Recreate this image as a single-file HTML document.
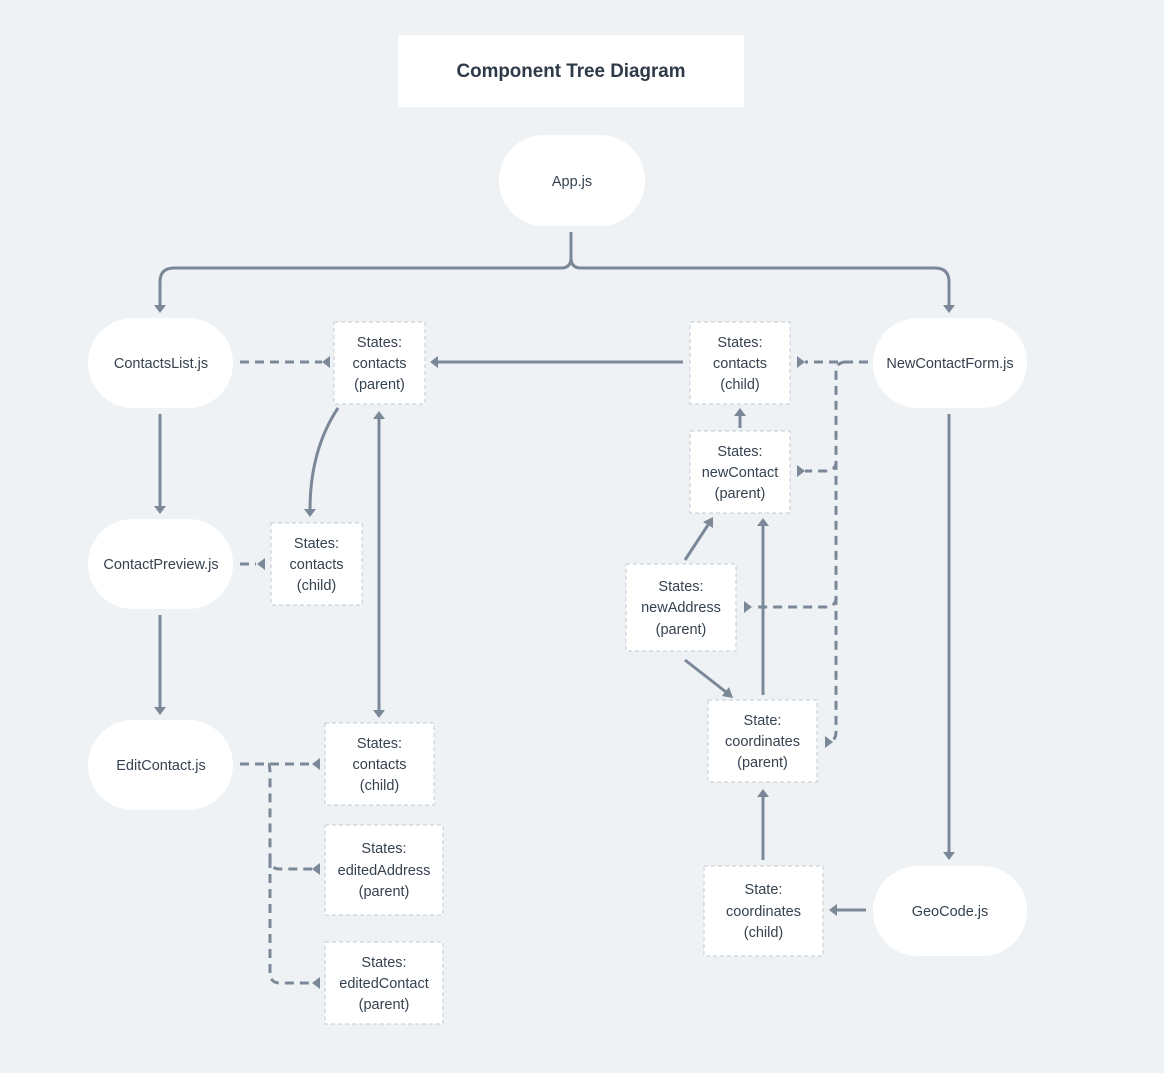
<!DOCTYPE html>
<html><head><meta charset="utf-8"><style>
html,body{margin:0;padding:0;background:#eff2f5;}
svg{display:block;font-family:"Liberation Sans","DejaVu Sans",sans-serif;}
.t{font-size:14.5px;fill:#36424f;text-anchor:middle;}
.ln{stroke:#7b8898;stroke-width:3;fill:none;}
.dl{stroke:#7b8898;stroke-width:3;fill:none;stroke-dasharray:9 6;}
.bx{fill:#fff;stroke:#ccd3db;stroke-width:1.2;stroke-dasharray:4 3;}
.ar{fill:#7b8898;}
</style></head><body>
<svg width="1164" height="1073" viewBox="0 0 1164 1073">
<rect width="1164" height="1073" fill="#eff2f5"/>
<rect x="398" y="35" width="346" height="72" fill="#fff"/>
<text x="571" y="77" font-size="19" font-weight="bold" fill="#2e3a47" text-anchor="middle" textLength="229" lengthAdjust="spacingAndGlyphs">Component Tree Diagram</text>

<path class="ln" d="M571 232 V258 Q571 268 561 268 H174 Q160 268 160 282 V306"/>
<path class="ln" d="M571 258 Q571 268 581 268 H935 Q949 268 949 282 V306"/>
<polygon class="ar" points="154,305 166,305 160,313"/>
<polygon class="ar" points="943,305 955,305 949,313"/>
<path class="ln" d="M160 414 V507"/><polygon class="ar" points="154,506 166,506 160,514"/>
<path class="ln" d="M160 615 V708"/><polygon class="ar" points="154,707 166,707 160,715"/>
<path class="ln" d="M683 362 H437"/><polygon class="ar" points="438,356 438,368 430,362"/>
<path class="ln" d="M338 408 Q310 450 310 510"/><polygon class="ar" points="304,509 316,509 310,517"/>
<path class="ln" d="M379 418 V711"/><polygon class="ar" points="373,419 385,419 379,411"/><polygon class="ar" points="373,710 385,710 379,718"/>
<path class="ln" d="M740 428 V415"/><polygon class="ar" points="734,416 746,416 740,408"/>
<path class="ln" d="M685 560 L708 525"/><polygon class="ar" points="703,522 713,528 713,517"/>
<path class="ln" d="M685 660 L726 692"/><polygon class="ar" points="722,696 729,687 733,698"/>
<path class="ln" d="M763 695 V525"/><polygon class="ar" points="757,526 769,526 763,518"/>
<path class="ln" d="M949 414 V853"/><polygon class="ar" points="943,852 955,852 949,860"/>
<path class="ln" d="M866 910 H836"/><polygon class="ar" points="837,904 837,916 829,910"/>
<path class="ln" d="M763 860 V796"/><polygon class="ar" points="757,797 769,797 763,789"/>

<!-- dashed (arrowheads point back along line) -->
<path class="dl" d="M240 362 H322"/><polygon class="ar" points="330,356 330,368 322,362"/>
<path class="dl" d="M240 564 H256"/><polygon class="ar" points="265,558 265,570 257,564"/>
<path class="dl" d="M240 764 H312"/><polygon class="ar" points="320,758 320,770 312,764"/>
<path class="dl" d="M268 764 Q270 764 270 774 V859 Q270 869 280 869 H312"/><polygon class="ar" points="320,863 320,875 312,869"/>
<path class="dl" d="M270 859 V973 Q270 983 280 983 H312"/><polygon class="ar" points="320,977 320,989 312,983"/>
<path class="dl" d="M868 362 H805"/><polygon class="ar" points="797,356 797,368 805,362"/>
<path class="dl" d="M846 362 Q836 362 836 372 V732 Q836 742 826 742"/><polygon class="ar" points="825,736 825,748 833,742"/>
<path class="dl" d="M836 461 Q836 471 826 471 H805"/><polygon class="ar" points="797,465 797,477 805,471"/>
<path class="dl" d="M836 597 Q836 607 826 607 H752"/><polygon class="ar" points="744,601 744,613 752,607"/>

<g fill="#fff">
<rect x="499" y="135" width="146" height="91" rx="45"/>
<rect x="88" y="318" width="145" height="90" rx="45"/>
<rect x="88" y="519" width="145" height="90" rx="45"/>
<rect x="88" y="720" width="145" height="90" rx="45"/>
<rect x="873" y="318" width="154" height="90" rx="45"/>
<rect x="873" y="866" width="154" height="90" rx="45"/>
</g>
<text class="t" x="572" y="186">App.js</text>
<text class="t" x="161" y="368">ContactsList.js</text>
<text class="t" x="161" y="569">ContactPreview.js</text>
<text class="t" x="161" y="770">EditContact.js</text>
<text class="t" x="950" y="368">NewContactForm.js</text>
<text class="t" x="950" y="916">GeoCode.js</text>

<rect class="bx" x="334" y="322" width="91" height="82"/>
<text class="t" x="379.5" y="347">States:</text><text class="t" x="379.5" y="368">contacts</text><text class="t" x="379.5" y="389">(parent)</text>
<rect class="bx" x="271" y="523" width="91" height="82"/>
<text class="t" x="316.5" y="548">States:</text><text class="t" x="316.5" y="569">contacts</text><text class="t" x="316.5" y="590">(child)</text>
<rect class="bx" x="325" y="723" width="109" height="82"/>
<text class="t" x="379.5" y="748">States:</text><text class="t" x="379.5" y="769">contacts</text><text class="t" x="379.5" y="790">(child)</text>
<rect class="bx" x="325" y="825" width="118" height="90"/>
<text class="t" x="384" y="853">States:</text><text class="t" x="384" y="875">editedAddress</text><text class="t" x="384" y="896">(parent)</text>
<rect class="bx" x="325" y="942" width="118" height="82"/>
<text class="t" x="384" y="967">States:</text><text class="t" x="384" y="988">editedContact</text><text class="t" x="384" y="1009">(parent)</text>
<rect class="bx" x="690" y="322" width="100" height="82"/>
<text class="t" x="740" y="347">States:</text><text class="t" x="740" y="368">contacts</text><text class="t" x="740" y="389">(child)</text>
<rect class="bx" x="690" y="431" width="100" height="82"/>
<text class="t" x="740" y="456">States:</text><text class="t" x="740" y="477">newContact</text><text class="t" x="740" y="498">(parent)</text>
<rect class="bx" x="626" y="564" width="110" height="87"/>
<text class="t" x="681" y="591">States:</text><text class="t" x="681" y="612">newAddress</text><text class="t" x="681" y="634">(parent)</text>
<rect class="bx" x="708" y="700" width="109" height="82"/>
<text class="t" x="762.5" y="725">State:</text><text class="t" x="762.5" y="746">coordinates</text><text class="t" x="762.5" y="767">(parent)</text>
<rect class="bx" x="704" y="866" width="119" height="90"/>
<text class="t" x="763.5" y="894">State:</text><text class="t" x="763.5" y="916">coordinates</text><text class="t" x="763.5" y="937">(child)</text>
</svg>
</body></html>
